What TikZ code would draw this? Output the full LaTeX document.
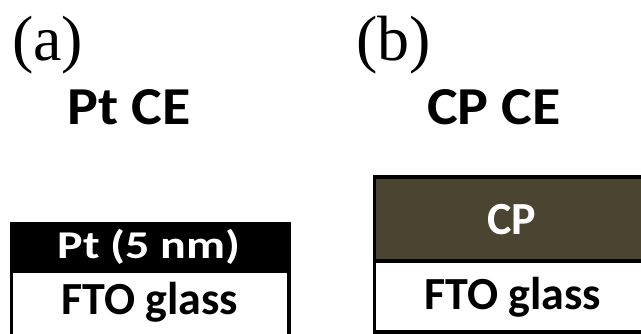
\documentclass[tikz,border=0pt]{standalone}
\usepackage{fontspec}
\setmainfont{Liberation Serif}
\newfontfamily\calfont{Carlito}
\definecolor{cpbrown}{HTML}{4A4430}
\begin{document}
\begin{tikzpicture}[x=1pt,y=1pt,
  lbl/.style={font=\fontsize{46}{50}\selectfont\calfont\bfseries, inner sep=0pt},
  title/.style={font=\fontsize{58}{62}\selectfont\calfont\bfseries, inner sep=0pt},
  panel/.style={font=\fontsize{64}{68}\selectfont, inner sep=0pt},
  layer/.style={draw=black, line width=3.5pt}]
\useasboundingbox (0,0) rectangle (641,334);
\clip (0,0) rectangle (641,334);
% panel labels
\node[panel, anchor=west] (pa) at (12,289) {(a)};
\node[panel, anchor=west] (pb) at (356,289) {(b)};
\node[title] (ta) at (129,227) {\scalebox{1}[0.92]{Pt CE}};
\node[title] (tb) at (494,227) {\scalebox{1}[0.92]{CP CE}};
% (a) stack
\draw[layer, fill=black] (11.5,110) rectangle (289,63);
\draw[layer, fill=white] (11.5,63) rectangle (289,-10);
\node[lbl, font=\fontsize{48}{52}\selectfont\calfont\bfseries, text=white] (pt) at (149,87.5) {\scalebox{1}[0.82]{Pt (5 nm)}};
\node[lbl] (fa) at (150,32) {FTO glass};
% (b) stack
\draw[layer, fill=cpbrown] (374.5,157) rectangle (650,73);
\draw[layer, fill=white] (374.5,73) rectangle (650,2);
\node[lbl, text=white] (cp) at (512,114) {CP};
\node[lbl] (fb) at (513,37) {FTO glass};
\end{tikzpicture}
\end{document}
